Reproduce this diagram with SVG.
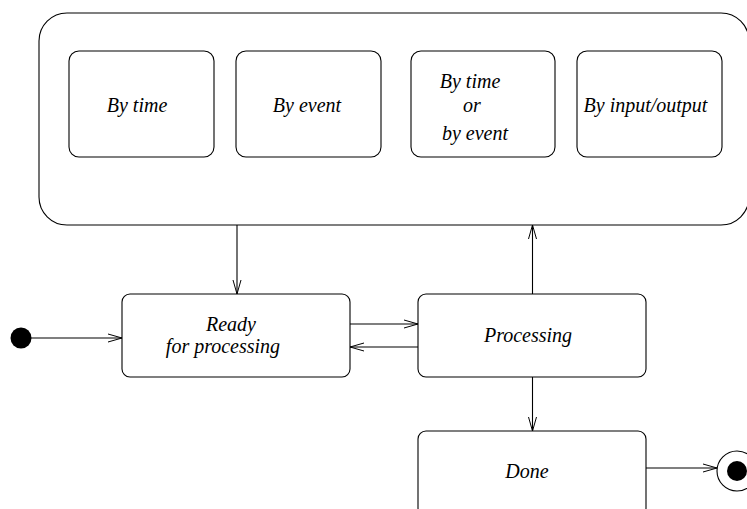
<svg xmlns="http://www.w3.org/2000/svg" width="747" height="509" viewBox="0 0 747 509">
<defs>
<style>
.box{fill:#fff;stroke:#000;stroke-width:1.1}
.t{font-family:"Liberation Serif","Times New Roman",serif;font-style:italic;font-size:20px;fill:#000;text-anchor:middle}
.c{fill:none;stroke:#000;stroke-width:1.1}
</style>
<marker id="arr" markerWidth="16" markerHeight="10" refX="14" refY="5" orient="auto" markerUnits="userSpaceOnUse">
<path d="M0,1 L14,5 L0,9" fill="none" stroke="#000" stroke-width="1"/>
</marker>
</defs>
<rect width="747" height="509" fill="#fff"/>
<g id="composite">
<rect class="box" x="39" y="13" width="710" height="212" rx="28" ry="28"/>
</g>
<g id="by-time">
<rect class="box" x="69" y="51" width="145" height="106" rx="10" ry="10"/>
<text class="t" x="137" y="112">By time</text>
</g>
<g id="by-event">
<rect class="box" x="236" y="51" width="145" height="106" rx="10" ry="10"/>
<text class="t" x="307" y="112">By event</text>
</g>
<g id="by-time-or-event">
<rect class="box" x="411" y="51" width="144" height="106" rx="10" ry="10"/>
<text class="t" x="470" y="88">By time</text>
<text class="t" x="472" y="112">or</text>
<text class="t" x="475" y="140">by event</text>
</g>
<g id="by-io">
<rect class="box" x="577" y="51" width="145" height="106" rx="10" ry="10"/>
<text class="t" x="645.5" y="112">By input/output</text>
</g>
<g id="initial">
<circle cx="21" cy="338" r="10.5" fill="#000"/>
</g>
<g id="ready">
<rect class="box" x="122" y="294" width="228" height="83" rx="8" ry="8"/>
<text class="t" x="231" y="331">Ready</text>
<text class="t" x="223" y="353">for processing</text>
</g>
<g id="processing">
<rect class="box" x="418" y="294" width="228" height="83" rx="8" ry="8"/>
<text class="t" x="528" y="342">Processing</text>
</g>
<g id="done">
<rect class="box" x="418" y="431" width="228" height="85" rx="8" ry="8"/>
<text class="t" x="527" y="478">Done</text>
</g>
<g id="final">
<circle cx="737" cy="471" r="20" fill="#fff" stroke="#000" stroke-width="1.1"/>
<circle cx="737" cy="471" r="10" fill="#000"/>
</g>
<g id="connectors">
<line class="c" x1="237" y1="225" x2="237" y2="294" marker-end="url(#arr)"/>
<line class="c" x1="532.5" y1="294" x2="532.5" y2="225" marker-end="url(#arr)"/>
<line class="c" x1="350" y1="324" x2="418" y2="324" marker-end="url(#arr)"/>
<line class="c" x1="418" y1="347" x2="350" y2="347" marker-end="url(#arr)"/>
<line class="c" x1="532.5" y1="377" x2="532.5" y2="431" marker-end="url(#arr)"/>
<line class="c" x1="31" y1="338" x2="122" y2="338" marker-end="url(#arr)"/>
<line class="c" x1="646" y1="468" x2="717" y2="468" marker-end="url(#arr)"/>
</g>
</svg>
